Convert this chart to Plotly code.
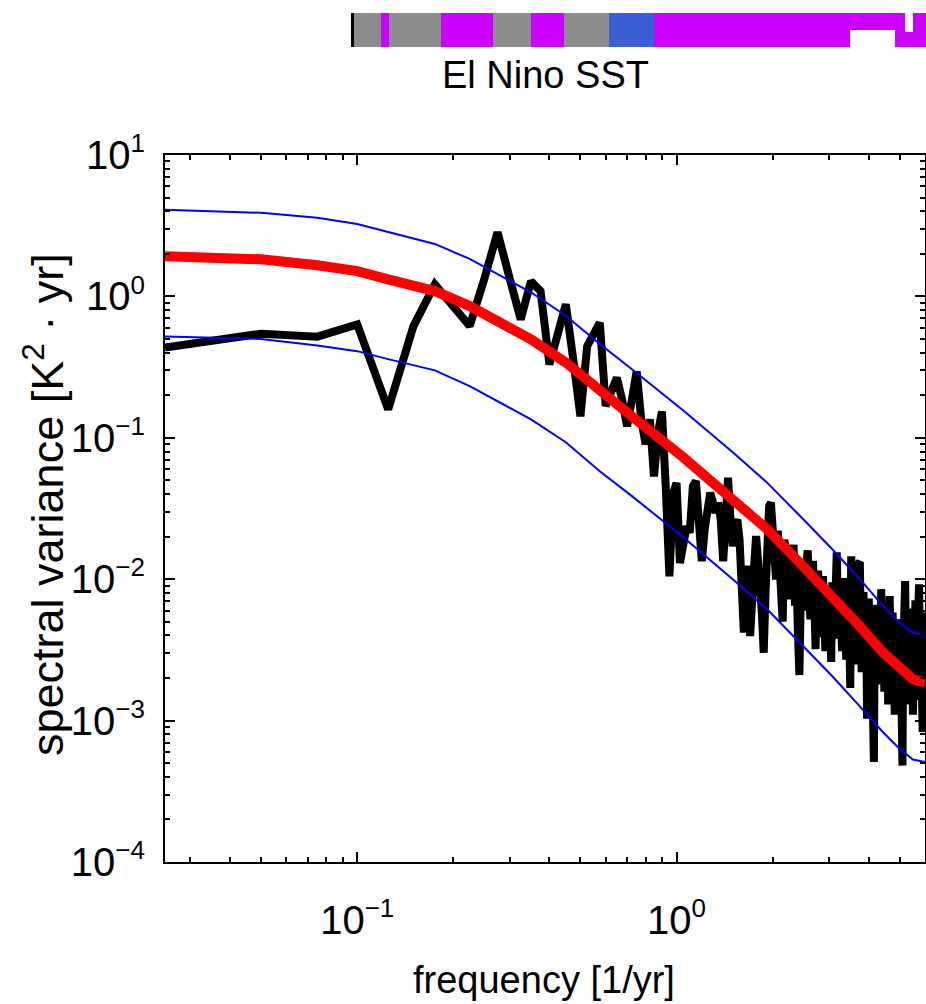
import plotly.graph_objects as go

# ---------------- data ----------------
record_years = 40
freq = [k / record_years for k in range(1, 241)]  # 1/yr

black_low = [0.434, 0.545, 0.519, 0.634, 0.159, 0.617, 1.216, 0.832, 0.617, 1.33,
             2.84, 1.35, 0.688, 1.28, 1.09, 0.33, 0.55, 0.878, 0.355, 0.142,
             0.445]
black_mid = [0.538, 0.652, 0.1676, 0.22, 0.266, 0.187, 0.1205, 0.187, 0.295, 0.135,
             0.0898, 0.135, 0.0533, 0.109, 0.1537, 0.0453, 0.01047, 0.040, 0.048]
black_1 = [0.013, 0.0176, 0.0237, 0.0213, 0.0455, 0.0494, 0.0265, 0.0134, 0.0225, 0.0329,
           0.0409, 0.0348, 0.0295, 0.0348, 0.0265, 0.0134, 0.0295, 0.0522, 0.0265, 0.0171,
           0.0237, 0.0265, 0.0191, 0.00997, 0.00419, 0.0124, 0.00997, 0.00396, 0.00997, 0.0124,
           0.0202, 0.0154, 0.00894, 0.0058, 0.00302, 0.00803, 0.0225, 0.0329, 0.0348, 0.0191,
           0.0111, 0.00997]
black_2 = [0.022, 0.012, 0.0085, 0.0050, 0.019, 0.016, 0.009, 0.014,
           0.0072, 0.011, 0.0175, 0.0065, 0.0105, 0.0042, 0.0021, 0.0078, 0.0135, 0.0095,
           0.006, 0.0125, 0.016, 0.0083, 0.0052, 0.0098, 0.0135, 0.0072, 0.0032, 0.0088,
           0.0115, 0.0067, 0.0039, 0.0068, 0.0105, 0.0058, 0.0031, 0.0071, 0.0082, 0.0048]
black_3 = [0.0062, 0.0026, 0.0095, 0.0071, 0.0043, 0.0112, 0.0155, 0.0066, 0.0038, 0.0085,
           0.0057, 0.0031, 0.0074, 0.0102, 0.0049, 0.0027, 0.0063, 0.0088, 0.0041, 0.0017,
           0.0145, 0.0072, 0.0036, 0.0058, 0.0093, 0.0044, 0.0025, 0.0128, 0.0061, 0.0132,
           0.0039, 0.0022, 0.0055, 0.0081, 0.0034, 0.0047, 0.0068, 0.00103, 0.0052, 0.0073,
           0.0029, 0.0045, 0.0062, 0.0024, 0.0013, 0.00051, 0.0041, 0.0066, 0.0033, 0.0049,
           0.0021, 0.0057, 0.0038, 0.0018, 0.0085, 0.0044, 0.0028, 0.0052, 0.0016, 0.0036,
           0.0061, 0.0024, 0.0042, 0.0013, 0.0035, 0.0076, 0.0047, 0.0022, 0.0039, 0.0058,
           0.0019, 0.0033, 0.0011, 0.0044, 0.0027, 0.0052, 0.0031, 0.0015, 0.0038, 0.0024,
           0.0046, 0.0017, 0.0009, 0.00048, 0.0029, 0.0041, 0.0068, 0.0097, 0.0035, 0.0021,
           0.0044, 0.0013, 0.0032, 0.0056, 0.0026, 0.0017, 0.0039, 0.0062, 0.0022, 0.0011,
           0.0034, 0.0048, 0.0019, 0.0071, 0.0029, 0.0014, 0.0037, 0.0053, 0.0023, 0.0092,
           0.0031, 0.0016, 0.0042, 0.0027, 0.0012, 0.00083, 0.0036, 0.0058, 0.0021, 0.0026]
sst_spectrum = black_low + black_mid + black_1 + black_2 + black_3

fit_k = [1, 2, 3, 4, 5, 7, 9, 11, 14, 18, 23, 29, 42, 60, 77, 97, 123, 150, 177, 200, 220, 240]
fit_freq = [k / record_years for k in fit_k]
red_fit = [1.92, 1.83, 1.66, 1.51, 1.32, 1.09, 0.854, 0.669, 0.497, 0.341, 0.214, 0.142,
           0.0727, 0.0367, 0.0225, 0.01315, 0.00756, 0.00464, 0.00304, 0.00230, 0.00196, 0.00186]
upper_conf = [4.1, 3.9, 3.6, 3.25, 2.85, 2.35, 1.84, 1.44, 1.07, 0.73, 0.46, 0.305,
              0.156, 0.079, 0.048, 0.0283, 0.0163, 0.0100, 0.0065, 0.0049, 0.0042, 0.0040]
lower_conf = [0.52, 0.50, 0.45, 0.41, 0.36, 0.30, 0.232, 0.182, 0.135, 0.093, 0.058, 0.0387,
              0.0198, 0.0100, 0.0061, 0.00358, 0.00206, 0.00126, 0.00083, 0.00063, 0.00053, 0.00051]

x_major = [0.1, 1]
x_major_exp = ["\u22121", "0"]
x_minor = [0.03, 0.04, 0.05, 0.06, 0.07, 0.08, 0.09, 0.2, 0.3, 0.4, 0.5, 0.6, 0.7, 0.8, 0.9,
           2, 3, 4, 5, 6]
y_major = [1e-4, 1e-3, 1e-2, 1e-1, 1, 10]
y_major_exp = ["\u22124", "\u22123", "\u22122", "\u22121", "0", "1"]
y_minor = [m * 10.0 ** e for e in range(-4, 1) for m in range(2, 10)]

# fragment of the panel above (cropped strip): segment edges and colours
strip_edges = [0, 27, 35, 87, 139, 177, 210, 255, 300, 572]
strip_colors = ["#8c8c8c", "#cc00ff", "#8c8c8c", "#cc00ff", "#8c8c8c", "#cc00ff",
                "#8c8c8c", "#3d5fd6", "#cc00ff"]


def pow_label(e, size):
    return "10<sup><span style='font-size:%dpx'>%s</span></sup>" % (size, e)


# ---------------- figure ----------------
W, H = 926, 1004
fig = go.Figure()

fig.add_trace(go.Scatter(x=freq, y=sst_spectrum, mode="lines",
                         line=dict(color="black", width=8), showlegend=False))
fig.add_trace(go.Scatter(x=fit_freq, y=red_fit, mode="lines",
                         line=dict(color="#ff0000", width=10), showlegend=False))
fig.add_trace(go.Scatter(x=fit_freq, y=upper_conf, mode="lines",
                         line=dict(color="#0000ff", width=2), showlegend=False))
fig.add_trace(go.Scatter(x=fit_freq, y=lower_conf, mode="lines",
                         line=dict(color="#0000ff", width=2), showlegend=False))

# strip
centers = [(a + b) / 2 for a, b in zip(strip_edges[:-1], strip_edges[1:])]
widths = [b - a for a, b in zip(strip_edges[:-1], strip_edges[1:])]
fig.add_trace(go.Bar(x=centers, y=[1] * len(centers), width=widths, base=0,
                     marker=dict(color=strip_colors, line=dict(width=0)),
                     xaxis="x2", yaxis="y2", showlegend=False, hoverinfo="skip"))
fig.add_trace(go.Bar(x=[518], y=[0.5], width=[45], base=0,
                     marker=dict(color="white", line=dict(width=0)),
                     xaxis="x2", yaxis="y2", showlegend=False, hoverinfo="skip"))
fig.add_trace(go.Bar(x=[555], y=[0.55], width=[8], base=0.45,
                     marker=dict(color="white", line=dict(width=0)),
                     xaxis="x2", yaxis="y2", showlegend=False, hoverinfo="skip"))

font_family = "Liberation Sans, Arial, Helvetica, sans-serif"
xd = [165 / W, 925 / W]
yd = [(H - 862) / H, (H - 155) / H]

axis_common = dict(type="log", showgrid=False, zeroline=False, showline=True,
                   linecolor="black", linewidth=2, mirror="ticks", ticks="inside",
                   ticklen=10, tickwidth=1.5, tickcolor="black", automargin=False,
                   tickfont=dict(family=font_family, size=40, color="black"))

fig.update_layout(
    width=W, height=H, autosize=False,
    margin=dict(l=0, r=0, t=0, b=0, pad=0, autoexpand=False),
    paper_bgcolor="white", plot_bgcolor="white",
    barmode="overlay", bargap=0,
    font=dict(family=font_family, color="black"),
    xaxis=dict(**axis_common, domain=xd, anchor="y",
               range=[-1.60206, 0.77815],
               tickmode="array", tickvals=x_major,
               ticktext=[pow_label(e, 26) for e in x_major_exp],
               ticklabelstandoff=22,
               minor=dict(tickmode="array", tickvals=x_minor, ticks="inside",
                          ticklen=5, tickwidth=1.5, tickcolor="black", showgrid=False)),
    yaxis=dict(**axis_common, domain=yd, anchor="x",
               range=[-4, 1],
               tickmode="array", tickvals=y_major,
               ticktext=[pow_label(e, 26) for e in y_major_exp],
               ticklabelstandoff=10,
               minor=dict(tickmode="array", tickvals=y_minor, ticks="inside",
                          ticklen=5, tickwidth=1.5, tickcolor="black", showgrid=False)),
    xaxis2=dict(domain=[354 / W, 1.0], anchor="y2", range=[0, 572], automargin=False,
                showgrid=False, zeroline=False, showticklabels=False, ticks=""),
    yaxis2=dict(domain=[(H - 47) / H, (H - 13) / H], anchor="x2", range=[0, 1],
                automargin=False,
                showgrid=False, zeroline=False, showticklabels=False, ticks="",
                showline=True, linecolor="black", linewidth=3),
    annotations=[
        dict(text="El Nino SST", x=545 / W, y=(H - 75) / H, xref="paper", yref="paper",
             showarrow=False, font=dict(size=38, family=font_family, color="black"),
             xanchor="center", yanchor="middle"),
        dict(text="frequency [1/yr]", x=544 / W, y=(H - 980) / H, xref="paper", yref="paper",
             showarrow=False, font=dict(size=38, family=font_family, color="black"),
             xanchor="center", yanchor="middle"),
        dict(text="spectral variance [K<sup>2</sup> \u00b7 yr]", x=44 / W, y=(H - 505) / H,
             xref="paper", yref="paper", showarrow=False, textangle=-90,
             font=dict(size=45, family=font_family, color="black"),
             xanchor="center", yanchor="middle"),
    ],
)

fig.write_html("out.html")
